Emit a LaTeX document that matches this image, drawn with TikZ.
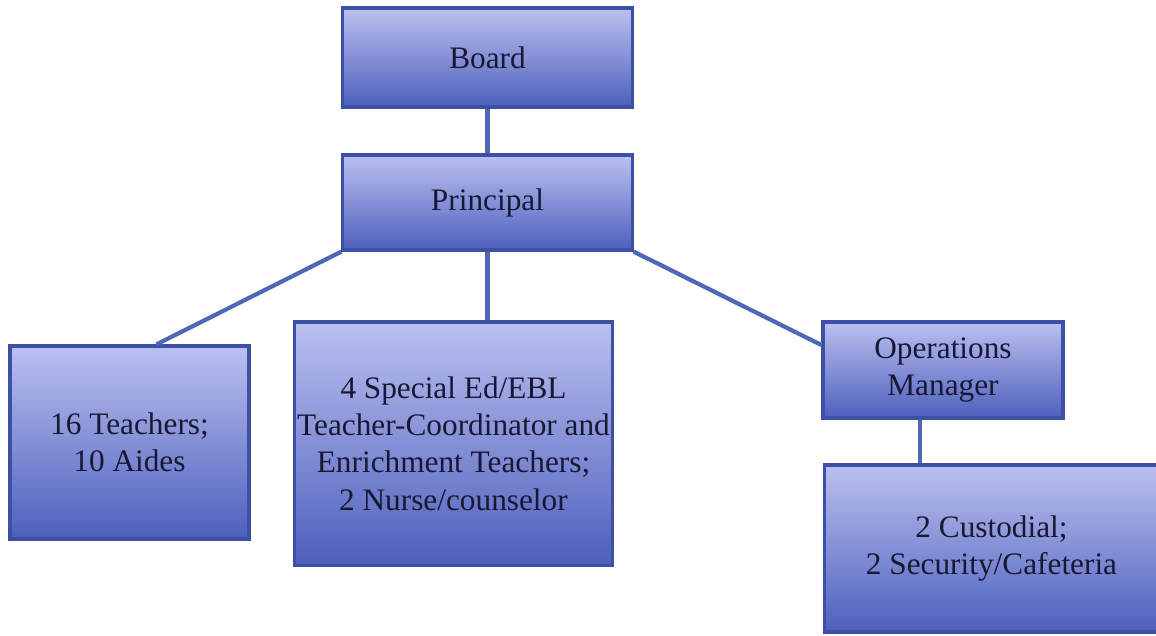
\documentclass[tikz,border=0pt]{standalone}
\usepackage{fontspec}
\setmainfont{Liberation Serif}
\usepackage{tikz}
\usetikzlibrary{positioning}
\definecolor{boxtop}{RGB}{188,192,240}
\definecolor{boxbot}{RGB}{76,96,188}
\definecolor{boxline}{RGB}{60,80,165}
\definecolor{linkline}{RGB}{82,102,184}
\definecolor{boxtext}{RGB}{24,24,52}
\begin{document}
\begin{tikzpicture}[x=0.01cm,y=-0.01cm]
\tikzstyle{orgbox}=[draw=boxline, line width=0.9pt, top color=boxtop, middle color=boxtop!78!boxbot, bottom color=boxbot, text=boxtext, align=center, inner sep=0pt, font=\fontsize{8.9}{10.6}\selectfont]
\tikzstyle{link}=[draw=linkline, line width=1.2pt]
\useasboundingbox (0,0) rectangle (1156,635);
\node [orgbox, minimum width=2.89cm, minimum height=0.99cm] (board) at (487.5,57.5) {Board};
\node [orgbox, minimum width=2.89cm, minimum height=0.95cm] (prin) at (487.5,202.5) {Principal};
\node [orgbox, minimum width=2.39cm, minimum height=1.93cm] (teach) at (129.5,442.5) {16 Teachers;\\10 Aides};
\node [orgbox, minimum width=3.17cm, minimum height=2.43cm] (mid) at (453.5,443.5) {4 Special Ed/EBL\\Teacher-Coordinator and\\Enrichment Teachers;\\2 Nurse/counselor};
\node [orgbox, minimum width=2.40cm, minimum height=0.96cm] (ops) at (943,370) {Operations\\Manager};
\node [orgbox, minimum width=3.33cm, minimum height=1.67cm] (staff) at (991.5,548.5) {2 Custodial;\\2 Security/Cafeteria};
\draw [link] (board.south) -- (prin.north);
\draw [link] (prin.south west) -- ([xshift=0.27cm]teach.north);
\draw [link] (prin.south) -- (prin.south |- mid.north);
\draw [link] (prin.south east) -- ([yshift=0.25cm]ops.west);
\draw [link] ([xshift=-0.23cm]ops.south) -- ([xshift=-0.23cm]ops.south |- staff.north);
\end{tikzpicture}
\end{document}
